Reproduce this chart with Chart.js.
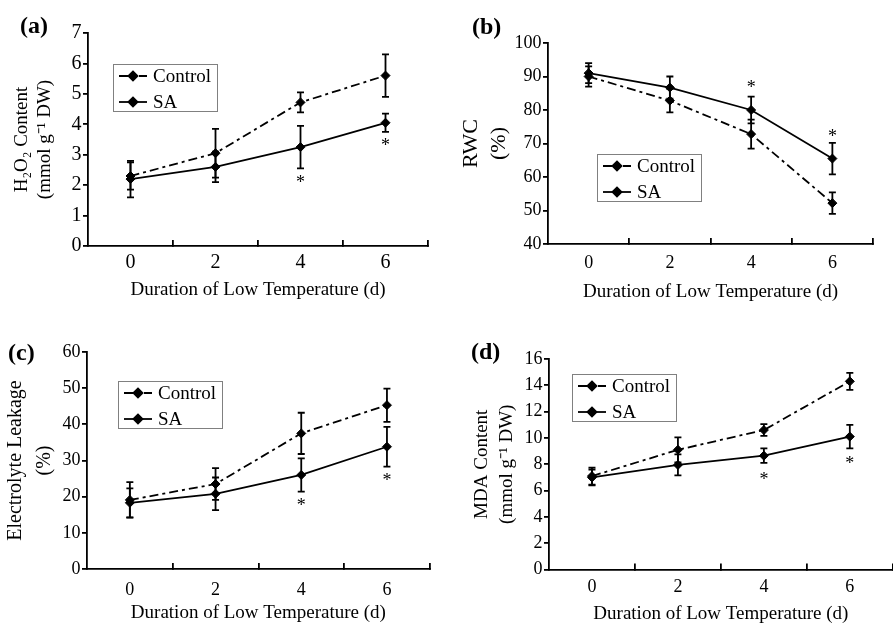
<!DOCTYPE html>
<html>
<head>
<meta charset="utf-8">
<script src="https://cdn.jsdelivr.net/npm/chart.js@4.4.0/dist/chart.umd.min.js"></script>
<style>
html, body { margin: 0; padding: 0; background: #fff; overflow: hidden; }
#fig { position: relative; width: 893px; height: 624px; overflow: hidden; }
.panel { position: absolute; }
.tag { position: absolute; font: bold 24px "Liberation Serif"; line-height: 24px; color: #000; }
</style>
</head>
<body>
<div id="fig">
  <div class="panel" style="left:0;top:0"><canvas id="ca" width="446" height="310"></canvas></div>
  <div class="panel" style="left:446px;top:0"><canvas id="cb" width="447" height="310"></canvas></div>
  <div class="panel" style="left:0;top:310px"><canvas id="cc" width="446" height="314"></canvas></div>
  <div class="panel" style="left:446px;top:310px"><canvas id="cd" width="460" height="314"></canvas></div>
  <div class="tag" style="left:20px;top:13px">(a)</div>
  <div class="tag" style="left:472px;top:14px">(b)</div>
  <div class="tag" style="left:8px;top:340px">(c)</div>
  <div class="tag" style="left:471px;top:339px">(d)</div>
</div>
<script>
// days of low temperature
const days = [0, 2, 4, 6];
const xTicksShown = [0, 2, 4, 6];

// (a) H2O2 content
const h2o2Control = [2.3, 3.05, 4.72, 5.6];
const h2o2ControlErr = [0.45, 0.8, 0.33, 0.7];
const h2o2SA = [2.2, 2.6, 3.25, 4.05];
const h2o2SAErr = [0.6, 0.5, 0.7, 0.3];
const h2o2Stars = [null, null, 2.2, 3.4];

// (b) RWC
const rwcControl = [90, 82.8, 72.8, 52.2];
const rwcControlErr = [3, 3.5, 4.3, 3.2];
const rwcSA = [91, 86.7, 80, 65.5];
const rwcSAErr = [3, 3.3, 4, 4.7];
const rwcStars = [null, null, 87.5, 73];

// (c) electrolyte leakage
const elControl = [19.1, 23.5, 37.5, 45.3];
const elControlErr = [4.9, 4.4, 5.7, 4.6];
const elSA = [18.3, 20.8, 26, 33.8];
const elSAErr = [4, 4.5, 4.6, 5.5];
const elStars = [null, null, 18.4, 25.3];

// (d) MDA content
const mdaControl = [7.1, 9.1, 10.6, 14.3];
const mdaControlErr = [0.65, 0.95, 0.45, 0.65];
const mdaSA = [7.0, 7.95, 8.65, 10.1];
const mdaSAErr = [0.6, 0.8, 0.55, 0.9];
const mdaStars = [null, null, 7.1, 8.3];

const FONT = 'Liberation Serif';
const xTitle = 'Duration of Low Temperature (d)';

const errorBarPlugin = {
    id: 'errorBars',
    afterDatasetsDraw(chart, args, opts) {
        const ctx = chart.ctx;
        const xs = chart.scales.x, ys = chart.scales.y;
        ctx.save();
        ctx.strokeStyle = '#000';
        ctx.lineWidth = 1.8;
        ctx.setLineDash([]);
        opts.sets.forEach((errs, di) => {
            chart.data.datasets[di].data.forEach((pt, i) => {
                const x = xs.getPixelForValue(pt.x);
                const yt = ys.getPixelForValue(pt.y + errs[i]);
                const yb = ys.getPixelForValue(pt.y - errs[i]);
                ctx.beginPath();
                ctx.moveTo(x, yt); ctx.lineTo(x, yb);
                ctx.moveTo(x - 3.5, yt); ctx.lineTo(x + 3.5, yt);
                ctx.moveTo(x - 3.5, yb); ctx.lineTo(x + 3.5, yb);
                ctx.stroke();
            });
        });
        // significance marks
        ctx.fillStyle = '#000';
        ctx.font = '18px "' + FONT + '"';
        ctx.textAlign = 'center';
        ctx.textBaseline = 'alphabetic';
        opts.stars.forEach((v, i) => {
            if (v === null) return;
            ctx.fillText('*', xs.getPixelForValue(days[i]), ys.getPixelForValue(v) + 8.5);
        });
        ctx.restore();
    }
};

const boxLegendPlugin = {
    id: 'boxLegend',
    afterDraw(chart, args, opts) {
        const ctx = chart.ctx;
        ctx.save();
        ctx.strokeStyle = '#808080';
        ctx.lineWidth = 1;
        ctx.setLineDash([]);
        ctx.strokeRect(opts.x + 0.5, opts.y + 0.5, 104, 47);
        chart.data.datasets.forEach((ds, i) => {
            const ry = opts.y + 12 + 26 * i;
            ctx.strokeStyle = '#000';
            ctx.lineWidth = ds.borderWidth;
            ctx.setLineDash(ds.borderDash || []);
            ctx.beginPath();
            ctx.moveTo(opts.x + 6, ry);
            ctx.lineTo(opts.x + 34, ry);
            ctx.stroke();
            ctx.setLineDash([]);
            ctx.fillStyle = '#000';
            Chart.helpers.drawPoint(ctx, { pointStyle: 'rectRot', radius: 4.5, borderWidth: 1 }, opts.x + 20, ry);
            ctx.font = '19px "' + FONT + '"';
            ctx.textAlign = 'left';
            ctx.textBaseline = 'middle';
            ctx.fillText(ds.label, opts.x + 40, ry + 1);
        });
        ctx.restore();
    }
};

function toPoints(vals) {
    return days.map((d, i) => ({ x: d, y: vals[i] }));
}

function makePanel(id, p) {
    const xh = p.titleGap + 9.5;
    const tickPad = p.tickGap + 6 - p.tickFont * 0.6;
    return new Chart(document.getElementById(id), {
        type: 'line',
        data: {
            datasets: [{
                label: 'Control',
                data: toPoints(p.control),
                borderColor: '#000',
                backgroundColor: '#000',
                borderWidth: 1.8,
                borderDash: [9, 4, 3, 4],
                pointStyle: 'rectRot',
                pointRadius: 4.5,
                pointBorderWidth: 1,
                tension: 0
            }, {
                label: 'SA',
                data: toPoints(p.sa),
                borderColor: '#000',
                backgroundColor: '#000',
                borderWidth: 1.8,
                pointStyle: 'rectRot',
                pointRadius: 4.5,
                pointBorderWidth: 1,
                tension: 0
            }]
        },
        options: {
            responsive: false,
            animation: false,
            layout: {
                padding: {
                    left: 0,
                    top: p.area.t,
                    right: p.w - p.area.r,
                    bottom: Math.max(0, p.h - p.area.b - xh)
                }
            },
            plugins: {
                legend: { display: false },
                tooltip: { enabled: false },
                errorBars: { sets: [p.controlErr, p.saErr], stars: p.stars },
                boxLegend: { x: p.legend[0], y: p.legend[1] }
            },
            scales: {
                x: {
                    type: 'linear',
                    min: -1,
                    max: 7,
                    afterFit: (s) => { s.height = xh; },
                    border: { display: true, color: '#000', width: 1.8 },
                    grid: {
                        drawOnChartArea: false,
                        tickLength: -6,
                        lineWidth: 1.8,
                        color: (c) => (c.tick && c.tick.value > -1 && Math.abs(c.tick.value % 2) === 1) ? '#000' : 'rgba(0,0,0,0)'
                    },
                    ticks: {
                        stepSize: 1,
                        autoSkip: false,
                        maxRotation: 0,
                        padding: tickPad,
                        color: '#000',
                        font: { family: FONT, size: p.tickFont },
                        callback: (v) => xTicksShown.includes(v) ? String(v) : ''
                    },
                    title: {
                        display: true,
                        text: xTitle,
                        color: '#000',
                        padding: 0,
                        font: { family: FONT, size: 19, lineHeight: 1 }
                    }
                },
                y: {
                    min: p.yMin,
                    max: p.yMax,
                    afterFit: (s) => { s.width = p.area.l; },
                    border: { display: true, color: '#000', width: 1.8 },
                    grid: { drawOnChartArea: false, tickLength: 5, lineWidth: 1.8, color: '#000' },
                    ticks: {
                        stepSize: p.yStep,
                        padding: 1.5,
                        color: '#000',
                        font: { family: FONT, size: p.tickFont }
                    },
                    title: {
                        display: true,
                        text: p.yTitle,
                        color: '#000',
                        padding: { top: p.yTitleX - p.yLineH / 2, bottom: 0 },
                        font: { family: FONT, size: p.yFont, lineHeight: p.yLineH / p.yFont }
                    }
                }
            }
        },
        plugins: [errorBarPlugin, boxLegendPlugin]
    });
}

makePanel('ca', {
    w: 446, h: 310, area: { l: 88, r: 428, t: 33, b: 246 },
    yMin: 0, yMax: 7, yStep: 1, tickGap: 17, titleGap: 44, tickFont: 20,
    yTitle: ['H\u2082O\u2082 Content', '(mmol g\u207B\u00B9 DW)'], yTitleX: 22, yLineH: 23, yFont: 19,
    control: h2o2Control, controlErr: h2o2ControlErr, sa: h2o2SA, saErr: h2o2SAErr, stars: h2o2Stars,
    legend: [113, 64]
});

makePanel('cb', {
    w: 447, h: 310, area: { l: 102, r: 427, t: 43, b: 244 },
    yMin: 40, yMax: 100, yStep: 10, tickGap: 19, titleGap: 48, tickFont: 18,
    yTitle: ['RWC', '(%)'], yTitleX: 25, yLineH: 28, yFont: 22,
    control: rwcControl, controlErr: rwcControlErr, sa: rwcSA, saErr: rwcSAErr, stars: rwcStars,
    legend: [151, 154]
});

makePanel('cc', {
    w: 446, h: 314, area: { l: 87, r: 430, t: 42, b: 259 },
    yMin: 0, yMax: 60, yStep: 10, tickGap: 21, titleGap: 44, tickFont: 18,
    yTitle: ['Electrolyte Leakage', '(%)'], yTitleX: 16, yLineH: 29, yFont: 20,
    control: elControl, controlErr: elControlErr, sa: elSA, saErr: elSAErr, stars: elStars,
    legend: [118, 71]
});

makePanel('cd', {
    w: 460, h: 314, area: { l: 103, r: 451, t: 49, b: 260 },
    yMin: 0, yMax: 16, yStep: 2, tickGap: 18, titleGap: 45, tickFont: 18,
    yTitle: ['MDA Content', '(mmol g\u207B\u00B9 DW)'], yTitleX: 36, yLineH: 25, yFont: 19,
    control: mdaControl, controlErr: mdaControlErr, sa: mdaSA, saErr: mdaSAErr, stars: mdaStars,
    legend: [126, 64]
});
</script>
</body>
</html>
